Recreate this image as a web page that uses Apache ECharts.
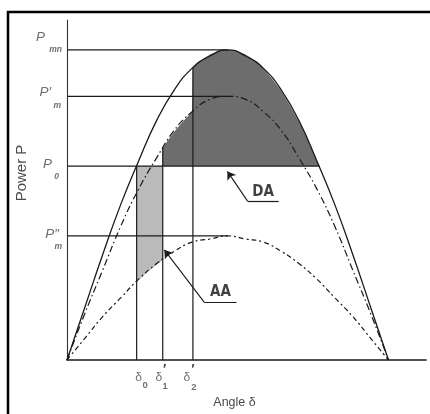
<!DOCTYPE html>
<html>
<head>
<meta charset="utf-8">
<script src="https://cdn.jsdelivr.net/npm/echarts@6/dist/echarts.min.js"></script>
<style>
html,body{margin:0;padding:0;background:#fff;}
#chart{width:430px;height:414px;}
</style>
</head>
<body>
<div id="chart"></div>
<script>
// ---- data ----
const angles = [0,10,20,30,40,50,60,70,80,90,100,110,120,130,140,150,160,170,180];
const curvePmn = [0,0.17,0.34,0.50,0.64,0.77,0.87,0.94,0.98,1.00,0.98,0.94,0.87,0.77,0.64,0.50,0.34,0.17,0];
const curvePmPost = [0,0.15,0.29,0.43,0.55,0.65,0.74,0.80,0.84,0.85,0.84,0.80,0.74,0.65,0.55,0.43,0.29,0.15,0];
const curvePmFault = [0,0.07,0.14,0.20,0.26,0.31,0.35,0.38,0.39,0.40,0.39,0.38,0.35,0.31,0.26,0.20,0.14,0.07,0];

const levelMain = ['P','P\u2032','P','P\u2033'];
const levelSub = ['mn','m','0','m'];
const levelValues = [1.00,0.85,0.625,0.40];
const levelEnds = [90,90,141.4,90];

const deltaMain = ['\u03b4','\u03b4','\u03b4'];
const deltaSub = ['0','1','2'];
const deltaPrime = ['','\u2032','\u2032'];
const deltaValues = [39,53.6,70.5];
const deltaTops = [0.625,0.684,0.943];

// decelerating area boundary (upper edge), accelerating area boundary (lower edge)
const daAngles = [53.6,55,60,65,70,70.5,70.5,75,80,85,90,95,100,105,110,115,120,125,130,135,140,141.4];
const daValues = [0.684,0.696,0.736,0.770,0.799,0.801,0.943,0.966,0.985,0.996,1.00,0.996,0.985,0.966,0.940,0.906,0.866,0.819,0.766,0.707,0.643,0.625];
const aaAngles = [39,45,50,53.6];
const aaValues = [0.252,0.283,0.306,0.322];

const areaNames = ['DA','AA'];
const areaLabelAngles = [109.8,85.9];
const areaLabelValues = [0.542,0.220];
const arrowFrom = [[101.1,0.512],[76.9,0.1855]];
const arrowTo = [[89.8,0.608],[54.5,0.355]];
const underlineEnd = [118.5,94.9];

const xAxisName = 'Angle \u03b4';
const yAxisName = 'Power P';

// ---- build ----
const pairs = (xs, ys) => xs.map((x,i)=>[x, ys[i]]);
const ink = '#1a1a1a';
const txt = '#4a4a4a';
const font = 'Liberation Sans, Arial, sans-serif';

const series = [];
const curveBase = {type:'line', smooth:true, showSymbol:false, symbol:'none', silent:true, z:5};

series.push(Object.assign({}, curveBase, {
  name:'Pmn', data:pairs(angles,curvePmn), lineStyle:{color:ink,width:1.3,type:'solid'},
  markLine:{silent:true, symbol:['none','arrow'], symbolSize:8, label:{show:false},
    lineStyle:{color:ink,width:1.1,type:'solid'},
    data: arrowFrom.map((f,i)=>[{coord:f},{coord:arrowTo[i]}])}
}));
series.push(Object.assign({}, curveBase, {
  name:'PmPost', data:pairs(angles,curvePmPost), lineStyle:{color:ink,width:1.2,type:[7,3,1.5,3]},
  markLine:{silent:true, symbol:['none','none'], label:{show:false},
    lineStyle:{color:ink,width:1.2,type:'solid'},
    data: arrowFrom.map((f,i)=>[{coord:f},{coord:[underlineEnd[i], f[1]]}])}
}));
series.push(Object.assign({}, curveBase, {
  name:'PmFault', data:pairs(angles,curvePmFault), lineStyle:{color:ink,width:1.2,type:[5,3,2,3]}
}));

// shaded areas
series.push({type:'line', name:'DA', data:pairs(daAngles,daValues), showSymbol:false, symbol:'none', silent:true,
  lineStyle:{width:0,opacity:0}, areaStyle:{color:'#6d6d6d', opacity:1, origin:levelValues[2]}, z:2});
series.push({type:'line', name:'AA', data:pairs(aaAngles,aaValues), showSymbol:false, symbol:'none', silent:true,
  lineStyle:{width:0,opacity:0}, areaStyle:{color:'#bababa', opacity:1, origin:levelValues[2]}, z:2});

// level lines
levelValues.forEach((v,i)=>{
  series.push({type:'line', data:[[0,v],[levelEnds[i],v]], showSymbol:false, symbol:'none', silent:true,
    lineStyle:{color:ink,width:1.2}, z:4});
});
// delta lines
deltaValues.forEach((d,i)=>{
  series.push({type:'line', data:[[d,0],[d,deltaTops[i]]], showSymbol:false, symbol:'none', silent:true,
    lineStyle:{color:ink,width:1.2}, z:4});
});

// level labels
const levelMainOffsets = [[-22,-12.5],[-16,-4],[-15,-2],[-8,-1.5]];
const levelSubOffsets = [[-5,0],[-6,9.5],[-8,11],[-5,10.5]];
series.push({type:'scatter', clip:false, silent:true, symbolSize:0, z:10,
  data: levelValues.map((v,i)=>({value:[0,v], label:{offset:levelMainOffsets[i]}})),
  label:{show:true, position:'left', distance:0, align:'right', verticalAlign:'middle',
    fontFamily:font, fontStyle:'italic', fontSize:13.5, color:txt,
    formatter:(p)=>levelMain[p.dataIndex]}});
series.push({type:'scatter', clip:false, silent:true, symbolSize:0, z:10,
  data: levelValues.map((v,i)=>({value:[0,v], label:{offset:levelSubOffsets[i]}})),
  label:{show:true, position:'left', distance:0, align:'right', verticalAlign:'middle',
    fontFamily:font, fontStyle:'italic', fontWeight:'bold', fontSize:8.5, color:txt,
    formatter:(p)=>levelSub[p.dataIndex]}});

// delta labels
const deltaMainOffsets = [[2,18],[-4,18],[-6,18]];
const deltaSubOffsets = [[8.5,25.5],[2.5,26.5],[1,27]];
const deltaPrimeOffsets = [[0,0],[2,10],[0,10]];
series.push({type:'scatter', clip:false, silent:true, symbolSize:0, z:10,
  data: deltaValues.map((d,i)=>({value:[d,0], label:{offset:deltaMainOffsets[i]}})),
  label:{show:true, position:'inside', align:'center', verticalAlign:'middle',
    fontFamily:font, fontSize:12, color:txt,
    formatter:(p)=>deltaMain[p.dataIndex]}});
series.push({type:'scatter', clip:false, silent:true, symbolSize:0, z:10,
  data: deltaValues.map((d,i)=>({value:[d,0], label:{offset:deltaSubOffsets[i]}})),
  label:{show:true, position:'inside', align:'center', verticalAlign:'middle',
    fontFamily:font, fontSize:9.5, fontWeight:'bold', color:txt,
    formatter:(p)=>deltaSub[p.dataIndex]}});
series.push({type:'scatter', clip:false, silent:true, symbolSize:0, z:10,
  data: deltaValues.map((d,i)=>({value:[d,0], label:{offset:deltaPrimeOffsets[i]}})),
  label:{show:true, position:'inside', align:'center', verticalAlign:'middle',
    fontFamily:font, fontSize:14, fontWeight:'bold', color:'#222',
    formatter:(p)=>deltaPrime[p.dataIndex]}});

// area labels
series.push({type:'scatter', clip:false, silent:true, symbolSize:0, z:10,
  data: areaLabelAngles.map((a,i)=>[a, areaLabelValues[i]]),
  label:{show:true, position:'inside', align:'center', verticalAlign:'middle',
    fontFamily:'Liberation Sans Narrow, DejaVu Sans Condensed, sans-serif', fontSize:15, fontWeight:'bold', color:'#111',
    formatter:(p)=>areaNames[p.dataIndex]}});

const chart = echarts.init(document.getElementById('chart'), null, {renderer:'canvas'});
chart.setOption({
  animation:false,
  backgroundColor:'#ffffff',
  grid:{left:67, right:4, top:20, bottom:53, containLabel:false},
  xAxis:{type:'value', min:0, max:201, name:xAxisName, nameLocation:'middle', nameGap:36,
    nameTextStyle:{fontFamily:font, fontSize:12.5, color:txt, padding:[0,24,0,0]},
    axisLine:{show:true, onZero:false, lineStyle:{color:ink,width:1.6}},
    axisTick:{show:false}, axisLabel:{show:false}, splitLine:{show:false}},
  yAxis:{type:'value', min:0, max:1.096, name:yAxisName, nameLocation:'middle', nameGap:38, nameRotate:90,
    nameTextStyle:{fontFamily:font, fontSize:15, color:txt, padding:[0,0,0,34]},
    axisLine:{show:true, lineStyle:{color:'#333',width:1.1}},
    axisTick:{show:false}, axisLabel:{show:false}, splitLine:{show:false}},
  graphic:[{type:'rect', silent:true, z:-1, shape:{x:8,y:12,width:500,height:500},
    style:{fill:null, stroke:'#000', lineWidth:2.5}}],
  series:series
});
</script>
</body>
</html>
